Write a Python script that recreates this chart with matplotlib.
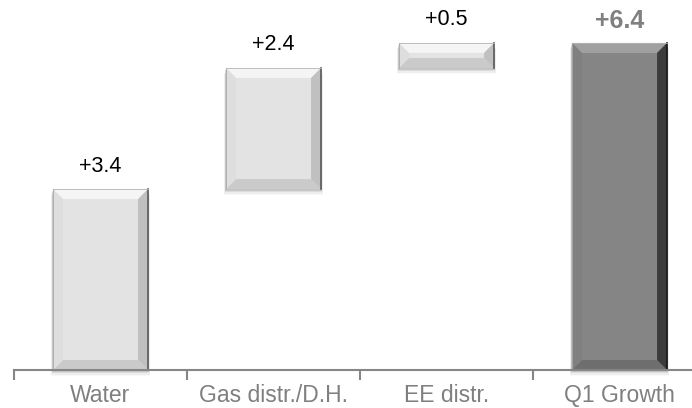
import matplotlib.pyplot as plt
from matplotlib.patches import Polygon, Rectangle
import numpy as np

plt.rcParams['font.family'] = ['Liberation Sans', 'DejaVu Sans']

categories = ['Water', 'Gas distr./D.H.', 'EE distr.', 'Q1 Growth']
steps = [3.54, 2.37, 0.49]          # bar heights
value_labels = ['+3.4', '+2.4', '+0.5', '+6.4']

total = sum(steps)
heights = steps + [total]
bottoms = list(np.cumsum([0] + steps[:-1])) + [0]

LIGHT = dict(face='#e3e3e3', top='#f5f5f5', bottom='#cacaca', left='#dedede', right='#c0c0c0', edge='#5a5a5a')
DARK = dict(face='#858585', top='#a0a0a0', bottom='#6e6e6e', left='#808080', right='#3c3c3c', edge='#151515')

fig = plt.figure(figsize=(6.92, 4.08), dpi=100)
ax = fig.add_axes([14 / 692, 38 / 408, 1.0, 370 / 408])
ax.set_xlim(-0.5, 3.5)
ax.set_ylim(0, 7.24)

x = np.arange(len(categories))
bars = ax.bar(x, heights, bottom=bottoms, width=0.55, color='none', edgecolor='none')

PX_X = 173.0   # px per x unit
PX_Y = 51.1    # px per y unit


def bevel(ax, rect, c):
    x0, y0 = rect.get_x(), rect.get_y()
    w, h = rect.get_width(), rect.get_height()
    x1, y1 = x0 + w, y0 + h
    bx = 10 / PX_X
    by = min(10 / PX_Y, h / 2.4)
    # soft shadow below
    for i, a in enumerate([0.10, 0.07, 0.045, 0.025]):
        d = (i + 1) * 1.6
        ax.add_patch(Rectangle((x0 - d * 0.3 / PX_X, y0 - d / PX_Y), w + d * 0.6 / PX_X, h, color='black',
                               alpha=a, lw=0, zorder=1, clip_on=False))
    ax.add_patch(Rectangle((x0, y0), w, h, facecolor=c['face'], edgecolor='none', zorder=2))
    ix0, ix1, iy0, iy1 = x0 + bx, x1 - bx, y0 + by, y1 - by
    ax.add_patch(Polygon([(x0, y1), (x1, y1), (ix1, iy1), (ix0, iy1)], color=c['top'], lw=0, zorder=3))
    ax.add_patch(Polygon([(x0, y0), (x1, y0), (ix1, iy0), (ix0, iy0)], color=c['bottom'], lw=0, zorder=3))
    ax.add_patch(Polygon([(x0, y0), (ix0, iy0), (ix0, iy1), (x0, y1)], color=c['left'], lw=0, zorder=3))
    ax.add_patch(Polygon([(x1, y0), (ix1, iy0), (ix1, iy1), (x1, y1)], color=c['right'], lw=0, zorder=3))
    ax.plot([x1, x1], [y0, y1], color=c['edge'], lw=1.2, zorder=4)
    ax.plot([x0, x0], [y0, y1], color='#a8a8a8', lw=0.6, zorder=4)
    ax.plot([x0, x1], [y1, y1], color='#b4b4b4', lw=0.6, zorder=4)


for i, rect in enumerate(bars):
    last = i == len(bars) - 1
    bevel(ax, rect, DARK if last else LIGHT)
    top = rect.get_y() + rect.get_height()
    cx = rect.get_x() + rect.get_width() / 2
    if last:
        ax.annotate(value_labels[i], (cx, top), xytext=(0, 7), textcoords='offset points',
                    ha='center', va='bottom', fontsize=18, fontweight='bold', color='#808080')
    else:
        ax.annotate(value_labels[i], (cx, top), xytext=(0, 9), textcoords='offset points',
                    ha='center', va='bottom', fontsize=15.5, color='black')

for s in ['top', 'right', 'left']:
    ax.spines[s].set_visible(False)
ax.spines['bottom'].set_color('#868686')
ax.spines['bottom'].set_linewidth(1.5)
ax.spines['bottom'].set_zorder(5)
ax.set_yticks([])
ax.set_xticks(x)
ax.set_xticklabels(categories, fontsize=16.5, color='#7f7f7f')
ax.tick_params(axis='x', which='major', length=0, pad=10)
ax.set_xticks(np.arange(-0.5, 4, 1), minor=True)
ax.tick_params(axis='x', which='minor', length=7, width=1.5, color='#868686')

fig.savefig('out.png', dpi=100)
